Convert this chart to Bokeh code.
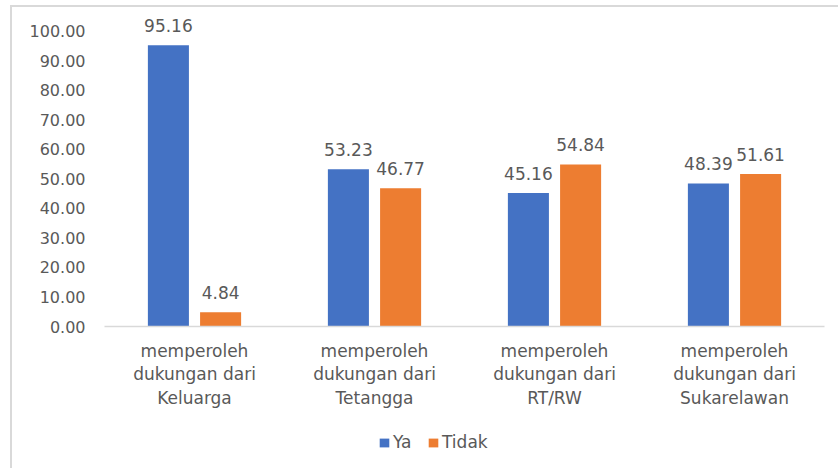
from bokeh.plotting import figure
from bokeh.layouts import column
from bokeh.models import (ColumnDataSource, FactorRange, Range1d, FixedTicker,
                          NumeralTickFormatter, Legend, LegendItem, LabelSet)
from bokeh.core.properties import value
from bokeh.transform import dodge
from bokeh.embed import file_html
from bokeh.resources import INLINE

categories = [
    "memperoleh\ndukungan dari\nKeluarga",
    "memperoleh\ndukungan dari\nTetangga",
    "memperoleh\ndukungan dari\nRT/RW",
    "memperoleh\ndukungan dari\nSukarelawan",
]
ya = [95.16, 53.23, 45.16, 48.39]
tidak = [4.84, 46.77, 54.84, 51.61]
y_ticks = [0, 10, 20, 30, 40, 50, 60, 70, 80, 90, 100]

BLUE = "#4472C4"
ORANGE = "#ED7D31"
TEXT = "#595959"
EDGE = "#d9d9d9"
FONT = "DejaVu Sans"

source = ColumnDataSource(data=dict(
    cat=categories,
    ya=ya,
    tidak=tidak,
    ya_label=[f"{v:.2f}" for v in ya],
    tidak_label=[f"{v:.2f}" for v in tidak],
))

p = figure(
    width=838, height=420,
    x_range=FactorRange(factors=categories, range_padding=0),
    y_range=Range1d(0, 107.6),
    output_backend="svg", toolbar_location=None,
    min_border_left=104, min_border_right=14,
    min_border_top=8, min_border_bottom=94,
)
p.border_fill_color = None
p.background_fill_color = None
p.outline_line_color = None
p.grid.visible = False

# light frame lines: top + left on the chart, left continues on the legend strip
p.styles = {
    "background-image": f"linear-gradient({EDGE}, {EDGE}), linear-gradient({EDGE}, {EDGE})",
    "background-size": "828px 2px, 2px 415px",
    "background-position": "10px 5px, 10px 5px",
    "background-repeat": "no-repeat",
}

r_ya = p.vbar(x=dodge("cat", -0.145, range=p.x_range), top="ya", width=0.228,
              source=source, fill_color=BLUE, line_color=None)
r_tidak = p.vbar(x=dodge("cat", 0.145, range=p.x_range), top="tidak", width=0.228,
                 source=source, fill_color=ORANGE, line_color=None)

for col, off in (("ya", -0.145), ("tidak", 0.145)):
    labels = LabelSet(x=dodge("cat", off, range=p.x_range), y=col, text=col + "_label",
                      source=source, text_align="center", text_baseline="alphabetic",
                      y_offset=13, text_font=value(FONT), text_font_size="17px",
                      text_color=TEXT)
    p.add_layout(labels)

# y axis
p.yaxis.ticker = FixedTicker(ticks=y_ticks)
p.yaxis.formatter = NumeralTickFormatter(format="0.00")
p.yaxis.axis_line_color = None
p.yaxis.major_tick_line_color = None
p.yaxis.minor_tick_line_color = None
p.yaxis.major_tick_out = 0
p.yaxis.major_label_standoff = 19
p.yaxis.major_label_text_font = FONT
p.yaxis.major_label_text_font_size = "16px"
p.yaxis.major_label_text_color = TEXT

# x axis
p.xaxis.axis_line_color = EDGE
p.xaxis.axis_line_width = 1.5
p.xaxis.major_tick_line_color = None
p.xaxis.minor_tick_line_color = None
p.xaxis.major_tick_out = 0
p.xaxis.major_label_standoff = 14
p.xaxis.major_label_text_font = FONT
p.xaxis.major_label_text_font_size = "17px"
p.xaxis.major_label_text_color = TEXT
p.xaxis.major_label_text_line_height = 1.18

# legend strip under the chart (its frame lines up with the chart frame)
leg = figure(width=838, height=48, output_backend="svg", toolbar_location=None,
             x_axis_location=None, y_axis_location=None,
             x_range=Range1d(0, 1), y_range=Range1d(0, 1),
             min_border_left=0, min_border_right=0, min_border_top=0, min_border_bottom=0)
leg.border_fill_color = None
leg.background_fill_color = None
leg.outline_line_color = None
leg.grid.visible = False
leg.styles = {
    "background-image": f"linear-gradient({EDGE}, {EDGE})",
    "background-size": "2px 48px",
    "background-position": "10px 0px",
    "background-repeat": "no-repeat",
}
# zero-height swatch renderers that only feed the legend
swatch = ColumnDataSource(data=dict(x=[-5], top=[-5]))
k_ya = leg.vbar(x="x", top="top", bottom="top", width=0.1, source=swatch,
                fill_color=BLUE, line_color=None)
k_tidak = leg.vbar(x="x", top="top", bottom="top", width=0.1, source=swatch,
                   fill_color=ORANGE, line_color=None)

legend = Legend(items=[LegendItem(label="Ya", renderers=[k_ya]),
                       LegendItem(label="Tidak", renderers=[k_tidak])],
                orientation="horizontal", location=(274, 16),
                glyph_width=12, glyph_height=11, label_standoff=3, spacing=14,
                label_text_font=FONT, label_text_font_size="17px",
                label_text_color=TEXT, border_line_color=None,
                background_fill_color=None, margin=0, padding=0)
leg.add_layout(legend, "center")

layout = column(p, leg, spacing=0)
open("out.html", "w").write(file_html(layout, INLINE))
